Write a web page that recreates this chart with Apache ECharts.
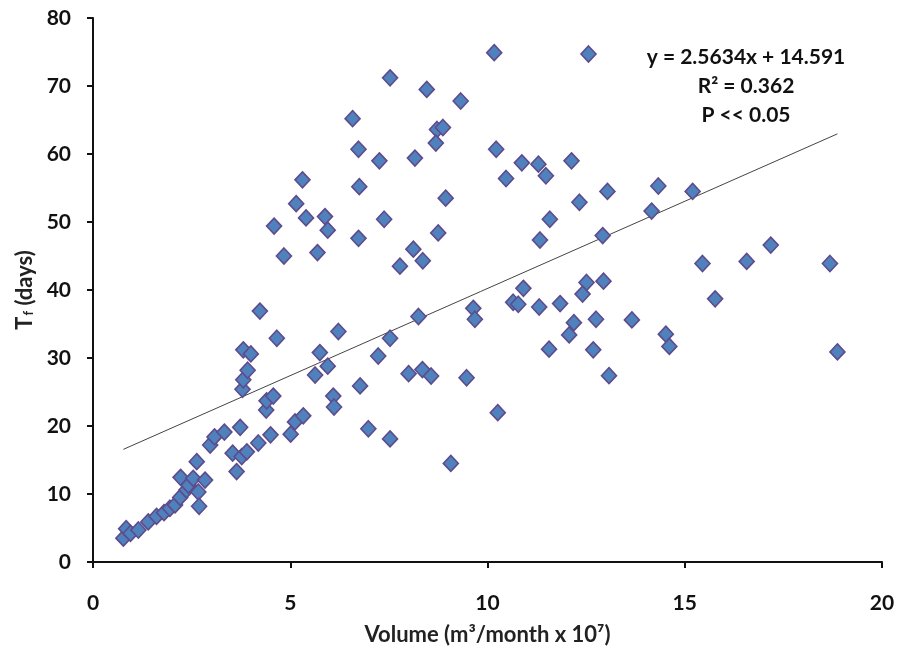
<!DOCTYPE html>
<html>
<head>
<meta charset="utf-8">
<script src="https://cdn.jsdelivr.net/npm/echarts@6/dist/echarts.min.js"></script>
<style>html,body{margin:0;padding:0;background:#fff}#c{width:902px;height:651px}</style>
</head>
<body>
<div id="c"></div>
<script>
// Volume (m3/month x 10^7)
const volume = [0.77,0.84,0.95,1.15,1.40,1.61,1.80,1.95,2.08,2.21,2.37,2.42,2.22,2.54,2.84,2.67,2.69,2.63,2.97,3.08,3.33,
  3.73,3.54,3.64,3.77,3.90,4.19,4.50,5.01,5.12,5.33,
  4.39,4.40,4.57,3.79,3.81,3.92,3.81,4.00,4.66,4.23,
  5.75,6.22,7.53,7.23,5.95,5.63,6.77,6.09,6.11,6.98,7.53,9.07,
  8.00,8.35,8.57,9.47,10.26,
  8.46,9.32,6.58,8.72,8.87,8.69,6.73,8.16,7.26,5.31,6.75,8.94,5.15,5.40,5.88,5.95,7.38,4.59,4.84,5.69,6.73,8.75,8.12,8.36,7.78,8.25,9.64,9.68,7.53,
  10.17,12.56,10.22,10.87,11.29,12.13,10.47,11.48,13.04,14.33,15.20,12.33,14.16,11.58,11.33,12.92,
  10.91,10.65,10.78,11.31,11.84,12.51,12.94,12.41,12.19,12.75,13.66,12.07,11.56,12.68,14.52,14.61,13.08,
  15.45,16.57,17.18,18.68,15.77,18.87];
// Tf (days)
const tf = [3.5,4.9,4.2,4.7,5.9,6.7,7.25,7.9,8.4,9.5,10.6,11.3,12.45,12.3,12.05,10.3,8.2,14.75,17.2,18.4,19.1,
  19.8,16.0,13.3,15.5,16.2,17.5,18.7,18.8,20.6,21.5,
  22.35,23.7,24.4,25.4,26.8,28.2,31.2,30.6,32.9,36.9,
  30.8,33.9,32.9,30.3,28.8,27.5,25.9,24.4,22.8,19.6,18.1,14.5,
  27.7,28.3,27.35,27.1,21.96,
  69.5,67.8,65.2,63.6,63.9,61.6,60.7,59.4,59.0,56.2,55.2,53.5,52.7,50.6,50.8,48.8,50.4,49.4,45.0,45.5,47.6,48.4,46.0,44.3,43.5,36.1,37.3,35.7,71.2,
  74.9,74.7,60.7,58.7,58.5,59.0,56.4,56.8,54.5,55.3,54.5,52.9,51.6,50.4,47.35,48.0,
  40.25,38.2,37.9,37.5,38.0,41.1,41.3,39.4,35.2,35.7,35.6,33.4,31.3,31.2,33.5,31.7,27.4,
  43.9,44.2,46.6,43.9,38.7,30.9];
const slope = 2.5634, intercept = 14.591;
const annotationLines = ['y = 2.5634x + 14.591', 'R² = 0.362', 'P << 0.05'];
const xTicks = [0, 5, 10, 15, 20];
const yTicks = [0, 10, 20, 30, 40, 50, 60, 70, 80];

const pts = volume.map((v, i) => [v, tf[i]]);
const xMinFit = Math.min(...volume), xMaxFit = Math.max(...volume);
const fitLine = [[xMinFit, slope * xMinFit + intercept], [xMaxFit, slope * xMaxFit + intercept]];

const FONT = 'Lato, "Open Sans", "Noto Sans", sans-serif';
const chart = echarts.init(document.getElementById('c'), null, {renderer: 'canvas'});
chart.setOption({
  backgroundColor: '#ffffff',
  animation: false,
  grid: {left: 93, right: 20, top: 18, bottom: 89, containLabel: false},
  xAxis: {
    type: 'value', min: 0, max: 20, interval: 5,
    name: 'Volume (m³/month x 10⁷)', nameLocation: 'middle', nameGap: 62,
    nameTextStyle: {fontFamily: FONT, fontWeight: 'bold', fontSize: 22, color: '#222'},
    axisLine: {show: true, lineStyle: {color: '#111', width: 2}},
    axisTick: {show: true, inside: false, length: 6, lineStyle: {color: '#111', width: 2}},
    axisLabel: {fontFamily: FONT, fontWeight: 'bold', fontSize: 21, color: '#111', margin: 31,
      formatter: v => xTicks.includes(v) ? String(v) : ''},
    splitLine: {show: false}
  },
  yAxis: {
    type: 'value', min: 0, max: 80, interval: 10,
    name: '{a|T}{b|f}{a| (days)}', nameLocation: 'middle', nameGap: 52, nameRotate: 90,
    nameTextStyle: {rich: {
      a: {fontFamily: FONT, fontWeight: 'bold', fontSize: 22, color: '#222'},
      b: {fontFamily: FONT, fontWeight: 'bold', fontSize: 13, color: '#222', padding: [9, 0, 0, 1]}
    }},
    axisLine: {show: true, lineStyle: {color: '#111', width: 2}},
    axisTick: {show: true, inside: false, length: 6, lineStyle: {color: '#111', width: 2}},
    axisLabel: {fontFamily: FONT, fontWeight: 'bold', fontSize: 21, color: '#111', margin: 22,
      formatter: v => yTicks.includes(v) ? String(v) : ''},
    splitLine: {show: false}
  },
  series: [
    {
      type: 'line', data: fitLine, symbol: 'none', silent: true, z: 1,
      lineStyle: {color: '#444', width: 1}
    },
    {
      type: 'scatter', data: pts, symbol: 'diamond', symbolSize: [15, 16], z: 2,
      itemStyle: {color: '#4F81BD', borderColor: '#5E4B8C', borderWidth: 1.6, opacity: 1}
    }
  ],
  graphic: annotationLines.map((t, i) => ({
    type: 'text', x: 746, y: 57 + i * 29,
    style: {text: t, fill: '#111', font: 'bold 21px ' + FONT, textAlign: 'center', textVerticalAlign: 'middle'}
  }))
});
</script>
</body>
</html>
